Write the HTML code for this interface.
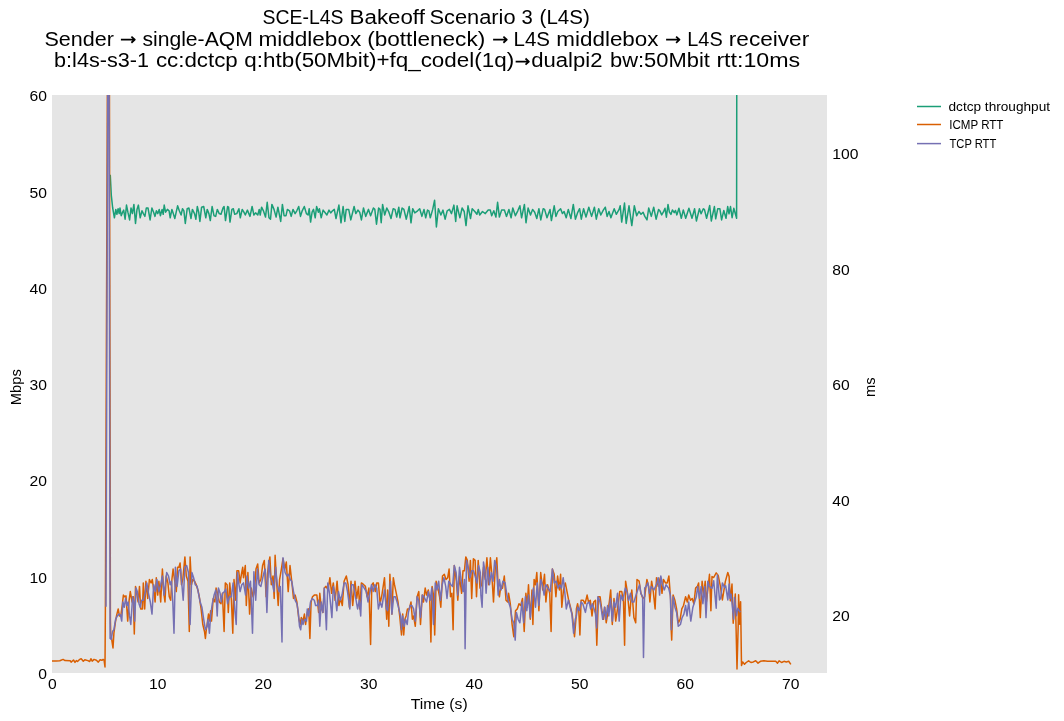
<!DOCTYPE html><html><head><meta charset="utf-8"><style>html,body{margin:0;padding:0;background:#fff;overflow:hidden}svg{display:block}text{font-family:"Liberation Sans",sans-serif;fill:#000}svg{will-change:transform}</style></head><body>
<svg width="1064" height="721" viewBox="0 0 1064 721">
<rect x="0" y="0" width="1064" height="721" fill="#ffffff"/>
<rect x="52" y="95" width="775" height="578" fill="#e5e5e5"/>
<text id="t0_0" x="262.60" y="23.5" font-size="20.0" textLength="80.91" lengthAdjust="spacingAndGlyphs">SCE-L4S</text>
<text id="t0_1" x="349.60" y="23.5" font-size="20.0" textLength="75.25" lengthAdjust="spacingAndGlyphs">Bakeoff</text>
<text id="t0_2" x="429.40" y="23.5" font-size="20.0" textLength="86.22" lengthAdjust="spacingAndGlyphs">Scenario</text>
<text id="t0_3" x="521.40" y="23.5" font-size="20.0" textLength="11.24" lengthAdjust="spacingAndGlyphs">3</text>
<text id="t0_4" x="539.60" y="23.5" font-size="20.0" textLength="50.23" lengthAdjust="spacingAndGlyphs">(L4S)</text>
<text id="t1_0" x="44.50" y="45.5" font-size="20.0" textLength="69.44" lengthAdjust="spacingAndGlyphs">Sender</text>
<text id="t1_1" x="142.40" y="45.5" font-size="20.0" textLength="110.43" lengthAdjust="spacingAndGlyphs">single-AQM</text>
<text id="t1_2" x="258.40" y="45.5" font-size="20.0" textLength="102.86" lengthAdjust="spacingAndGlyphs">middlebox</text>
<text id="t1_3" x="367.20" y="45.5" font-size="20.0" textLength="118.04" lengthAdjust="spacingAndGlyphs">(bottleneck)</text>
<text id="t1_4" x="513.50" y="45.5" font-size="20.0" textLength="36.50" lengthAdjust="spacingAndGlyphs">L4S</text>
<text id="t1_5" x="556.30" y="45.5" font-size="20.0" textLength="102.24" lengthAdjust="spacingAndGlyphs">middlebox</text>
<text id="t1_6" x="687.30" y="45.5" font-size="20.0" textLength="35.40" lengthAdjust="spacingAndGlyphs">L4S</text>
<text id="t1_7" x="728.80" y="45.5" font-size="20.0" textLength="80.43" lengthAdjust="spacingAndGlyphs">receiver</text>
<text id="t2_0" x="54.10" y="67.1" font-size="20.0" textLength="94.86" lengthAdjust="spacingAndGlyphs">b:l4s-s3-1</text>
<text id="t2_1" x="155.90" y="67.1" font-size="20.0" textLength="81.85" lengthAdjust="spacingAndGlyphs">cc:dctcp</text>
<text id="t2_2" x="244.30" y="67.1" font-size="20.0" textLength="269.84" lengthAdjust="spacingAndGlyphs">q:htb(50Mbit)+fq_codel(1q)</text>
<text id="t2_3" x="531.20" y="67.1" font-size="20.0" textLength="71.28" lengthAdjust="spacingAndGlyphs">dualpi2</text>
<text id="t2_4" x="610.00" y="67.1" font-size="20.0" textLength="99.87" lengthAdjust="spacingAndGlyphs">bw:50Mbit</text>
<text id="t2_5" x="716.40" y="67.1" font-size="20.0" textLength="83.83" lengthAdjust="spacingAndGlyphs">rtt:10ms</text>
<text id="time" x="410.70" y="708.8" font-size="14" textLength="56.93" lengthAdjust="spacingAndGlyphs">Time (s)</text>
<text id="leg1" x="948.50" y="110.5" font-size="12.2" textLength="101.50" lengthAdjust="spacingAndGlyphs">dctcp throughput</text>
<text id="leg2" x="949.30" y="128.8" font-size="12.2" textLength="54.13" lengthAdjust="spacingAndGlyphs">ICMP RTT</text>
<text id="leg3" x="949.50" y="147.9" font-size="12.2" textLength="46.76" lengthAdjust="spacingAndGlyphs">TCP RTT</text>
<text id="mbps" x="0" y="0" font-size="14" textLength="35.93" lengthAdjust="spacingAndGlyphs" transform="translate(20.8 405.20) rotate(-90)">Mbps</text>
<text id="ms" x="0" y="0" font-size="14" textLength="19.59" lengthAdjust="spacingAndGlyphs" transform="translate(875.1 397.10) rotate(-90)">ms</text>
<path d="M120.90 39.65 H134.70 M131.40 36.55 L134.80 39.65 L131.40 42.75" fill="none" stroke="#000" stroke-width="1.75" stroke-linejoin="round" stroke-linecap="butt"/>
<path d="M493.10 39.65 H506.70 M503.40 36.55 L506.80 39.65 L503.40 42.75" fill="none" stroke="#000" stroke-width="1.75" stroke-linejoin="round" stroke-linecap="butt"/>
<path d="M666.10 39.70 H679.40 M676.10 36.60 L679.50 39.70 L676.10 42.80" fill="none" stroke="#000" stroke-width="1.75" stroke-linejoin="round" stroke-linecap="butt"/>
<path d="M515.65 61.60 H528.80 M525.50 58.50 L528.90 61.60 L525.50 64.70" fill="none" stroke="#000" stroke-width="1.75" stroke-linejoin="round" stroke-linecap="butt"/>
<text x="47.00" y="101.00" font-size="14" text-anchor="end" textLength="17.44" lengthAdjust="spacingAndGlyphs">60</text>
<text x="47.00" y="198.00" font-size="14" text-anchor="end" textLength="17.44" lengthAdjust="spacingAndGlyphs">50</text>
<text x="47.00" y="294.00" font-size="14" text-anchor="end" textLength="17.44" lengthAdjust="spacingAndGlyphs">40</text>
<text x="47.00" y="390.00" font-size="14" text-anchor="end" textLength="17.44" lengthAdjust="spacingAndGlyphs">30</text>
<text x="47.00" y="486.00" font-size="14" text-anchor="end" textLength="17.44" lengthAdjust="spacingAndGlyphs">20</text>
<text x="47.00" y="583.00" font-size="14" text-anchor="end" textLength="17.44" lengthAdjust="spacingAndGlyphs">10</text>
<text x="47.00" y="679.00" font-size="14" text-anchor="end" textLength="8.72" lengthAdjust="spacingAndGlyphs">0</text>
<text x="832.30" y="159.00" font-size="14" text-anchor="start" textLength="26.15" lengthAdjust="spacingAndGlyphs">100</text>
<text x="832.30" y="275.00" font-size="14" text-anchor="start" textLength="17.44" lengthAdjust="spacingAndGlyphs">80</text>
<text x="832.30" y="390.00" font-size="14" text-anchor="start" textLength="17.44" lengthAdjust="spacingAndGlyphs">60</text>
<text x="832.30" y="506.00" font-size="14" text-anchor="start" textLength="17.44" lengthAdjust="spacingAndGlyphs">40</text>
<text x="832.30" y="621.00" font-size="14" text-anchor="start" textLength="17.44" lengthAdjust="spacingAndGlyphs">20</text>
<text x="52.30" y="689.00" font-size="14" text-anchor="middle" textLength="8.72" lengthAdjust="spacingAndGlyphs">0</text>
<text x="157.78" y="689.00" font-size="14" text-anchor="middle" textLength="17.44" lengthAdjust="spacingAndGlyphs">10</text>
<text x="263.26" y="689.00" font-size="14" text-anchor="middle" textLength="17.44" lengthAdjust="spacingAndGlyphs">20</text>
<text x="368.74" y="689.00" font-size="14" text-anchor="middle" textLength="17.44" lengthAdjust="spacingAndGlyphs">30</text>
<text x="474.22" y="689.00" font-size="14" text-anchor="middle" textLength="17.44" lengthAdjust="spacingAndGlyphs">40</text>
<text x="579.70" y="689.00" font-size="14" text-anchor="middle" textLength="17.44" lengthAdjust="spacingAndGlyphs">50</text>
<text x="685.18" y="689.00" font-size="14" text-anchor="middle" textLength="17.44" lengthAdjust="spacingAndGlyphs">60</text>
<text x="790.66" y="689.00" font-size="14" text-anchor="middle" textLength="17.44" lengthAdjust="spacingAndGlyphs">70</text>
<svg x="52" y="95" width="775" height="578" viewBox="52 95 775 578" overflow="hidden">
<polyline points="110.3,175.5 111.3,195.3 112.7,208.0 114.4,217.8 115.8,209.4 116.9,214.3 118.1,208.7 119.2,213.6 120.0,208.0 121.2,215.7 122.6,212.2 123.7,210.1 125.1,219.2 126.5,205.1 127.9,212.2 129.6,219.9 131.0,208.0 132.4,213.6 133.9,204.4 135.5,223.5 137.0,209.4 138.4,205.1 140.2,217.8 142.0,210.8 143.4,213.6 144.9,216.4 146.3,208.0 148.0,208.0 150.1,219.9 151.9,208.0 153.6,212.2 155.0,216.4 156.4,210.8 157.8,213.6 159.2,209.4 160.4,215.7 162.1,209.4 163.2,214.3 164.2,205.1 165.6,212.2 167.4,209.4 169.1,210.8 170.2,217.8 171.9,209.4 173.3,213.6 174.8,218.5 176.2,212.2 177.6,205.8 179.3,210.8 181.1,215.0 182.5,208.7 183.9,210.8 185.3,223.5 187.2,208.7 188.9,208.0 191.0,218.5 192.4,209.4 194.5,213.6 195.9,219.2 197.3,206.5 198.7,212.2 199.9,221.4 201.6,207.2 203.7,206.5 205.8,217.8 207.2,209.4 208.9,213.6 210.3,220.6 212.1,206.5 214.0,215.7 215.7,216.4 217.3,209.4 219.2,213.6 221.0,214.3 223.0,208.0 224.1,206.5 225.5,220.6 227.6,206.5 228.6,207.2 230.0,222.1 231.9,209.4 233.3,208.7 234.7,214.3 236.8,213.6 238.9,208.7 240.3,217.8 242.2,209.4 243.9,212.2 245.3,215.0 247.4,210.1 250.0,216.4 252.1,206.5 253.9,215.0 255.6,212.9 257.8,215.0 259.2,209.4 260.2,215.0 261.6,207.2 263.4,210.8 265.5,217.1 267.2,202.3 269.0,217.8 270.5,219.2 271.9,204.4 274.0,209.4 276.1,217.1 277.9,207.2 280.7,221.4 282.4,204.4 284.1,215.7 286.0,215.7 287.4,209.4 289.5,210.8 291.2,216.4 293.0,209.4 295.1,213.6 296.8,210.8 298.7,206.5 300.5,216.4 302.2,210.8 304.3,206.5 306.4,213.6 308.1,215.0 309.2,208.7 310.6,222.1 312.1,212.2 313.5,209.4 315.2,217.8 316.6,206.5 318.4,212.2 319.4,208.7 321.2,217.8 323.1,210.1 324.8,212.2 326.9,215.0 329.0,210.1 330.7,212.9 332.5,210.8 334.3,209.4 336.0,218.5 338.9,205.1 341.0,222.8 343.1,206.5 344.8,221.4 346.2,209.4 348.7,209.4 350.8,219.9 354.1,206.5 355.8,213.6 357.9,210.1 359.7,212.2 361.4,219.9 363.5,208.0 365.7,216.4 368.5,209.4 370.6,215.7 373.4,208.0 374.8,209.4 376.5,224.2 378.6,208.0 380.0,209.4 381.2,222.8 382.6,204.4 384.7,215.0 386.8,208.0 388.9,212.2 391.0,218.5 393.2,208.7 395.0,209.4 396.7,217.1 398.8,207.2 400.0,217.8 402.1,208.0 403.9,209.4 406.3,219.2 409.2,206.5 411.0,222.8 412.7,208.7 414.8,212.9 417.6,210.8 419.7,208.7 421.9,216.4 424.0,209.4 425.7,217.8 427.5,210.1 428.9,210.8 430.3,217.8 432.7,209.4 434.6,200.2 436.4,227.0 438.4,208.7 440.9,215.0 443.0,210.1 445.1,219.2 447.2,210.8 449.4,209.4 451.5,213.6 453.9,205.1 455.7,221.4 457.1,205.8 459.9,217.8 462.1,208.0 464.2,211.5 466.0,225.6 468.0,205.8 470.5,218.5 472.2,208.7 474.8,211.5 476.9,214.3 478.3,209.4 479.7,215.0 482.5,211.5 485.3,213.6 488.2,210.1 490.3,210.1 491.7,215.7 493.8,210.8 495.9,217.1 497.6,202.3 499.4,217.1 501.6,210.1 504.4,210.1 506.5,216.4 508.9,209.4 511.1,217.8 512.8,208.0 515.4,215.7 517.8,210.8 519.9,205.8 521.6,217.8 524.4,204.4 526.0,222.8 528.1,208.0 530.5,215.0 532.6,209.4 534.7,212.2 536.8,218.5 538.9,208.7 540.8,219.9 543.2,208.7 544.6,209.4 547.0,217.8 550.0,209.4 551.4,220.6 554.2,205.8 555.9,216.4 557.8,211.5 560.6,208.7 562.4,213.6 564.1,211.5 566.2,217.8 568.3,209.4 570.9,218.5 573.3,204.4 575.4,219.2 577.5,212.9 579.6,208.7 581.3,219.2 583.6,208.7 586.0,217.1 588.8,207.2 591.6,216.4 594.4,207.2 596.3,219.2 598.7,208.7 600.8,215.0 603.3,210.1 605.3,207.2 607.1,216.4 609.0,211.5 610.9,217.8 614.2,208.7 616.3,214.3 619.1,209.4 620.2,205.8 621.7,222.1 624.5,203.0 626.2,223.5 629.0,205.8 631.8,225.6 634.3,205.8 636.7,215.7 638.9,211.5 641.0,214.3 643.1,212.2 644.8,216.4 647.0,219.9 648.7,208.0 651.3,216.4 653.7,207.2 656.1,219.2 658.6,209.4 660.0,211.1 661.7,214.9 663.3,212.2 665.0,208.3 666.4,217.2 668.0,204.4 669.4,212.2 670.9,214.4 672.4,209.9 674.2,212.7 675.5,210.5 676.9,214.9 678.9,208.3 681.3,218.3 683.3,209.9 685.7,218.3 688.9,208.3 692.0,218.3 694.6,208.8 696.4,221.0 699.4,208.8 701.1,213.8 703.3,208.8 704.4,209.4 706.6,218.3 709.7,205.5 711.3,221.0 714.4,206.6 715.7,218.8 717.7,208.8 719.9,208.8 721.6,219.9 723.8,210.5 726.0,218.3 727.7,206.6 729.0,213.8 730.5,206.6 732.1,217.7 733.8,208.3 736.6,218.3 736.8,60.1" fill="none" stroke="#1b9e77" stroke-width="1.5" stroke-linejoin="round" stroke-linecap="square"/>
<polyline points="52.1,661.0 56.1,661.0 59.8,660.8 63.1,659.4 65.0,660.6 70.2,660.8 71.1,662.1 73.5,660.0 75.0,662.4 76.3,660.6 77.5,661.5 79.3,659.7 81.2,658.7 83.3,661.2 84.8,659.7 87.9,660.6 89.7,661.5 90.9,658.7 92.2,661.2 94.0,659.4 96.4,660.3 98.3,662.1 100.1,659.7 101.9,660.3 103.1,659.4 104.1,660.3 105.0,667.0 105.0,667.0 105.4,605.0 107.9,-50.0 109.2,-50.0 110.4,620.0 110.7,633.2 111.8,640.1 113.0,647.9 113.9,633.2 115.3,622.8 116.5,615.9 118.2,608.9 119.4,615.9 120.8,615.9 122.2,605.5 123.4,595.1 124.6,596.8 126.0,595.9 127.7,621.1 129.1,600.3 130.3,591.6 132.1,602.0 133.3,596.8 134.3,634.1 135.5,586.4 136.7,593.3 138.1,602.0 139.5,586.4 140.7,608.9 142.5,608.9 143.3,582.9 144.7,608.9 145.9,581.2 147.7,598.5 149.4,579.5 151.1,582.9 152.3,579.5 153.7,589.9 155.1,602.0 156.3,577.7 157.7,595.1 158.9,581.2 160.7,602.0 162.4,569.1 163.8,593.3 165.0,602.0 166.2,576.0 167.9,582.9 169.3,596.8 170.7,600.3 171.9,579.5 173.1,569.1 174.5,579.5 176.3,591.6 177.6,567.3 178.9,567.3 180.1,563.0 181.5,584.7 182.8,579.5 184.9,556.9 186.3,576.0 188.0,581.2 189.3,631.5 190.1,556.9 191.5,584.7 192.7,579.5 194.5,581.2 196.2,584.7 197.9,589.9 199.3,596.8 201.1,608.9 202.8,624.5 204.5,631.5 205.4,638.4 206.3,629.7 207.1,624.5 208.5,614.1 209.7,621.1 210.6,610.7 211.5,621.1 213.2,598.5 214.9,602.0 216.1,588.1 217.5,593.3 219.3,602.0 221.0,603.7 222.4,593.3 224.1,631.5 225.3,582.9 227.1,584.7 228.3,612.4 229.7,582.9 231.4,600.3 232.8,633.2 234.0,579.5 235.7,600.3 236.9,570.8 238.7,570.8 240.1,582.9 241.4,574.3 242.7,567.3 243.5,577.7 245.3,565.6 246.3,605.5 247.9,572.5 249.6,614.1 251.3,588.1 253.1,596.8 254.4,591.6 256.0,569.1 257.7,563.9 259.1,582.9 260.9,579.5 262.6,565.6 264.3,560.4 266.1,596.8 267.4,574.3 268.7,563.9 269.9,556.9 271.3,584.7 273.0,576.0 274.2,598.5 275.1,555.2 276.8,584.7 278.2,605.5 279.6,579.5 281.1,570.8 283.0,558.7 284.8,569.1 286.3,562.1 288.2,591.6 290.0,565.6 292.1,584.7 293.5,598.5 295.2,595.1 296.9,602.0 298.7,617.6 300.1,624.5 301.3,617.6 303.0,621.1 304.4,614.1 305.6,624.5 307.3,612.4 308.7,608.9 309.9,638.4 311.1,602.0 312.5,596.8 314.3,595.1 316.9,595.1 318.6,612.4 319.8,593.3 321.2,607.2 322.9,612.4 324.3,588.1 326.0,586.4 328.1,589.9 329.9,577.7 331.6,593.3 333.3,582.9 335.1,600.3 337.1,581.2 338.9,605.5 340.6,598.5 342.3,605.5 344.1,581.2 346.3,576.0 348.1,584.7 349.4,607.2 351.0,581.2 352.7,605.5 355.0,581.2 356.7,598.5 358.5,586.4 359.7,608.9 361.4,582.9 363.7,584.7 365.4,586.4 367.1,596.8 368.9,588.1 370.6,644.5 371.8,584.7 373.2,582.9 375.3,591.6 376.7,582.9 378.4,582.9 380.1,603.7 381.9,595.1 384.5,577.7 386.7,619.3 387.6,589.9 388.8,626.3 389.9,574.3 391.1,600.3 391.9,614.1 393.3,577.7 394.5,584.7 396.3,593.3 398.0,602.0 399.7,615.9 401.5,634.9 402.7,614.1 403.7,634.9 404.9,619.3 406.1,615.9 407.5,608.9 409.3,608.9 411.0,602.0 412.4,619.3 413.6,615.9 415.3,626.3 417.1,596.8 418.8,591.6 420.5,624.5 422.3,595.1 423.5,602.0 425.2,588.1 426.6,595.1 428.3,589.9 429.7,598.5 430.9,641.9 432.1,586.4 433.5,595.1 434.7,634.9 436.1,581.2 437.9,588.1 439.6,596.8 440.8,607.2 442.5,576.0 444.3,574.3 446.0,579.5 447.7,577.7 449.1,569.1 450.5,596.8 451.9,593.3 453.1,629.7 454.3,565.6 456.4,581.2 457.8,600.3 459.5,576.0 461.6,593.3 463.0,570.8 464.4,570.8 465.8,556.9 467.3,560.4 469.1,581.2 470.4,560.4 471.7,598.5 473.4,558.7 475.1,560.4 476.5,596.8 478.2,560.4 480.0,588.1 481.7,584.7 483.5,567.3 485.2,579.5 486.9,557.8 488.7,584.7 490.4,557.8 491.8,574.3 493.5,602.0 495.3,567.3 496.8,557.8 498.2,588.1 499.4,596.8 500.8,586.4 502.5,588.1 504.3,576.0 506.0,600.3 507.7,602.0 508.6,593.3 510.3,603.7 512.1,624.5 513.8,636.7 515.5,610.7 517.3,608.9 519.0,603.7 520.7,605.5 522.5,598.5 524.2,631.5 525.9,593.3 527.1,607.2 528.5,584.7 530.3,619.3 532.0,589.9 532.9,624.5 534.1,579.5 535.5,584.7 536.8,572.5 538.9,610.7 540.7,572.5 542.7,589.9 544.5,574.3 545.9,602.0 547.6,584.7 549.7,593.3 551.1,631.5 552.4,569.1 554.2,574.3 555.9,596.8 557.6,576.0 559.4,589.9 560.6,574.3 561.8,607.2 563.5,589.9 565.3,582.9 567.0,591.6 568.7,600.3 570.5,607.2 572.2,614.1 574.5,636.7 576.2,615.9 576.4,608.9 577.6,603.7 578.8,610.7 579.9,634.9 581.1,600.3 583.3,600.3 585.1,603.7 587.1,595.1 588.5,602.0 590.3,600.3 592.0,615.9 593.7,602.0 595.5,600.3 596.8,645.3 598.4,596.8 600.1,596.8 601.9,610.7 603.6,619.3 604.8,607.2 606.2,622.8 607.9,612.4 609.3,602.0 610.7,589.9 612.3,624.5 614.0,598.5 615.7,621.1 617.5,608.9 619.7,591.6 621.8,591.6 623.5,602.0 624.6,645.3 625.6,581.2 627.3,591.6 629.6,615.9 631.8,589.9 633.9,617.6 635.7,622.8 637.0,579.5 639.1,581.2 640.9,593.3 642.9,598.5 644.7,596.8 646.9,579.5 648.7,586.4 649.9,602.0 651.6,581.2 653.3,591.6 655.1,608.9 656.5,577.7 658.2,586.4 660.3,577.7 662.0,593.3 663.4,579.5 665.5,582.9 667.2,582.9 668.9,576.0 670.7,600.3 670.9,622.8 671.7,640.1 673.1,595.1 674.9,600.3 676.6,608.9 678.3,622.8 680.1,619.3 681.8,608.9 683.5,605.5 685.6,596.8 687.3,602.0 688.7,595.1 690.5,600.3 692.2,598.5 693.9,603.7 695.6,588.1 697.4,586.4 698.6,582.9 700.3,617.6 702.1,581.2 703.8,595.1 705.2,581.2 706.4,602.0 707.8,589.9 709.5,574.3 710.9,610.7 712.0,576.6 713.7,577.5 716.2,572.9 718.2,575.4 720.3,585.8 722.4,599.9 725.3,581.6 727.8,572.5 729.1,576.6 730.3,600.8 732.0,584.1 733.2,623.2 735.3,594.1 737.0,669.0 738.2,625.4 738.6,594.7 739.7,624.2 740.6,601.8 741.5,665.5 742.7,661.9 744.5,664.3 746.2,662.5 748.6,660.8 750.9,662.5 753.3,661.9 755.7,660.8 758.0,663.1 760.4,661.3 763.9,660.8 767.5,661.3 772.2,661.3 775.7,661.3 777.5,663.1 779.2,660.8 781.6,662.5 784.0,661.3 786.3,661.9 788.7,661.3 790.4,663.7" fill="none" stroke="#d95f02" stroke-width="1.5" stroke-linejoin="round" stroke-linecap="square"/>
<polyline points="106.0,606.0 108.2,-50.0 108.8,-50.0 110.1,638.4 111.3,639.3 112.5,631.5 113.9,629.7 115.6,619.3 117.3,615.9 119.1,614.1 120.5,615.0 121.7,621.1 122.9,602.0 124.3,607.2 125.6,598.5 126.9,605.5 128.1,602.0 129.5,615.9 130.8,624.5 132.6,596.8 133.8,602.0 134.7,621.1 136.0,588.1 137.3,591.6 139.0,603.7 140.2,607.2 141.6,600.3 143.3,600.3 145.1,593.3 146.8,582.9 148.5,593.3 150.3,602.0 152.0,614.1 153.7,584.7 155.5,591.6 156.8,579.5 158.9,591.6 160.7,584.7 162.4,576.0 164.1,595.1 166.7,572.5 168.5,576.0 170.2,584.7 171.4,581.2 172.8,602.0 174.0,633.2 175.4,567.3 177.1,586.4 178.9,570.8 180.6,569.1 183.2,600.3 184.9,567.3 186.7,565.6 188.4,572.5 190.1,624.5 191.9,572.5 193.6,577.7 195.3,584.7 197.1,586.4 198.5,593.3 200.2,602.0 201.9,607.2 203.7,619.3 205.4,629.7 207.1,626.3 208.0,619.3 209.4,633.2 210.6,615.9 212.3,603.7 214.1,595.1 215.8,589.9 217.2,615.9 218.4,588.1 220.1,593.3 221.3,602.0 222.7,593.3 224.5,591.6 225.8,589.0 227.6,603.7 229.3,596.8 231.4,596.8 233.1,582.9 234.9,610.7 236.2,624.5 237.5,572.5 238.7,582.9 240.1,591.6 241.8,584.7 243.5,582.9 245.6,595.1 247.0,576.0 248.7,588.1 250.5,581.2 252.5,633.2 253.9,571.7 255.7,600.3 257.4,569.1 259.1,584.7 260.9,586.4 263.5,574.3 265.2,569.1 266.9,612.4 268.7,560.4 270.4,577.7 272.1,581.2 273.9,591.6 275.6,567.3 277.3,584.7 279.1,591.6 280.3,586.4 282.0,641.9 283.0,557.8 285.1,572.5 286.9,576.0 288.6,574.3 290.3,579.5 291.7,581.2 293.5,591.6 295.2,600.3 296.9,603.7 298.3,612.4 299.5,626.3 300.7,629.7 301.8,619.3 303.0,624.5 304.7,619.3 306.5,621.1 307.3,608.9 308.7,615.9 310.5,602.0 312.2,598.5 314.3,600.3 315.6,605.5 317.4,605.5 318.6,600.3 319.8,626.3 321.2,602.0 322.9,612.4 324.3,588.1 326.4,629.7 327.8,582.9 329.5,593.3 331.9,617.6 333.3,586.4 335.1,595.1 336.8,610.7 338.5,591.6 340.3,600.3 342.0,595.1 344.1,582.9 345.8,582.9 347.5,591.6 349.8,608.9 351.5,584.7 353.3,584.7 355.5,596.8 357.6,608.9 359.3,600.3 360.7,615.9 361.9,584.7 364.2,588.1 366.3,591.6 368.0,602.0 369.7,593.3 371.5,584.7 373.2,591.6 374.9,584.7 376.7,588.1 378.4,608.9 380.1,602.0 381.9,607.2 384.5,589.9 386.4,608.9 387.6,610.7 389.3,595.1 390.5,581.2 391.9,614.1 393.7,596.8 395.4,596.8 397.1,602.0 398.9,608.9 400.6,615.9 401.5,629.7 402.7,615.9 404.1,626.3 405.5,619.3 407.2,624.5 408.4,612.4 410.1,605.5 411.9,605.5 413.6,608.9 415.3,621.1 417.1,596.8 418.8,600.3 420.5,617.6 422.3,595.1 424.0,596.8 426.6,602.0 428.3,591.6 430.1,600.3 431.8,588.1 433.5,624.5 435.3,582.9 437.0,589.9 438.7,581.2 440.5,600.3 442.2,584.7 443.9,577.7 445.7,586.4 447.0,598.5 448.8,581.2 450.9,584.7 452.6,586.4 454.3,565.6 456.1,572.5 457.8,595.1 459.5,567.3 461.3,581.2 463.0,591.6 464.4,579.5 465.1,648.8 466.5,560.4 468.2,567.3 469.9,577.7 471.7,570.8 473.4,570.8 475.1,576.0 476.9,582.9 478.6,565.6 480.3,572.5 480.9,595.1 482.1,607.2 483.5,562.1 484.9,570.8 486.1,593.3 487.8,567.3 489.5,584.7 491.3,572.5 493.0,581.2 494.7,560.4 496.5,567.3 498.2,595.1 499.4,579.5 501.1,589.9 502.9,581.2 505.1,582.9 506.9,595.1 508.6,602.0 510.3,607.2 512.1,619.3 513.8,622.8 515.2,640.1 516.4,612.4 518.1,619.3 519.9,622.8 521.9,602.0 523.7,622.8 525.4,596.8 526.8,610.7 528.5,595.1 530.3,617.6 531.6,602.0 533.4,588.1 535.5,607.2 537.2,582.9 538.9,605.5 540.7,579.5 542.4,584.7 544.1,595.1 545.9,584.7 547.9,588.1 550.2,591.6 552.4,569.1 554.2,582.9 556.3,581.2 558.0,588.1 559.7,584.7 561.5,588.1 563.2,577.7 564.9,593.3 566.3,608.9 568.4,600.3 570.1,607.2 571.9,614.1 573.6,633.2 575.3,619.3 576.4,615.9 577.6,607.2 579.3,610.7 581.1,602.0 582.8,603.7 585.4,612.4 587.1,603.7 589.2,602.0 590.6,608.9 592.3,603.7 594.1,608.9 595.5,614.1 596.7,628.0 597.9,596.8 599.6,600.3 601.0,607.2 602.7,619.3 604.5,607.2 605.8,619.3 607.6,605.5 608.8,615.9 610.5,598.5 612.3,621.1 614.0,602.0 615.7,607.2 617.5,593.3 619.2,621.1 620.9,595.1 622.7,600.3 625.3,588.1 627.0,591.6 628.7,600.3 630.5,593.3 632.2,602.0 633.9,602.0 636.0,595.1 637.7,589.9 639.5,584.7 640.9,593.3 642.6,596.8 643.5,657.5 644.7,588.1 646.1,586.4 647.8,582.9 649.5,593.3 651.3,586.4 653.9,589.9 656.5,584.7 658.2,577.7 659.6,595.1 660.8,576.0 662.5,584.7 664.3,589.9 666.0,584.7 668.6,588.1 670.3,595.1 671.4,629.7 673.1,596.8 674.9,607.2 676.6,612.4 678.3,626.3 680.4,624.5 682.1,617.6 683.9,614.1 685.6,605.5 687.0,615.9 688.7,602.0 690.8,621.1 692.9,607.2 694.6,602.0 696.3,596.8 697.7,586.4 699.5,598.5 701.2,586.4 702.9,603.7 704.7,586.4 706.0,617.6 707.8,581.2 709.5,586.4 712.0,588.3 713.7,580.8 716.2,608.3 717.4,575.0 719.5,599.9 720.7,598.3 722.4,582.9 724.5,587.5 725.7,585.8 727.8,599.9 729.1,584.1 729.9,598.3 731.1,594.1 733.6,619.1 734.5,597.4 736.5,615.7 737.8,608.3 739.9,611.6" fill="none" stroke="#7570b3" stroke-width="1.5" stroke-linejoin="round" stroke-linecap="square"/>
</svg>
<line x1="917" y1="106.5" x2="941" y2="106.5" stroke="#1b9e77" stroke-width="1.5"/>
<line x1="917" y1="124.5" x2="941" y2="124.5" stroke="#d95f02" stroke-width="1.5"/>
<line x1="917" y1="143.6" x2="941" y2="143.6" stroke="#7570b3" stroke-width="1.5"/>
</svg></body></html>
